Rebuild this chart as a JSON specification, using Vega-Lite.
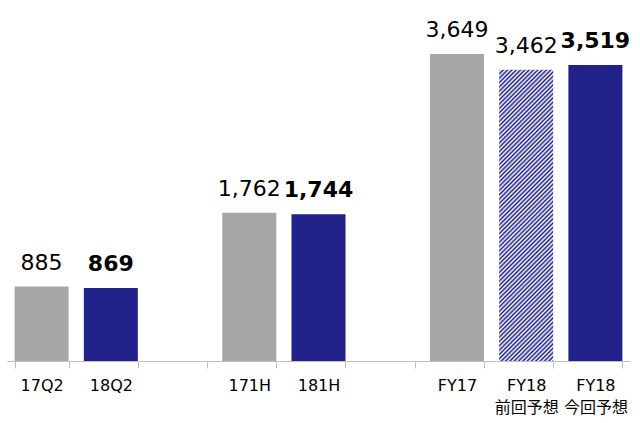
{
  "$schema": "https://vega.github.io/schema/vega-lite/v6.json",
  "width": 623,
  "height": 361,
  "autosize": {"type": "none"},
  "padding": {"left": 7, "top": 0, "right": 10, "bottom": 62},
  "background": "white",
  "config": {"view": {"stroke": null}, "font": "DejaVu Sans"},
  "data": {
    "values": [
      {"cat": "17Q2", "value": 885, "kind": "前年"},
      {"cat": "18Q2", "value": 869, "kind": "当年"},
      {"cat": "171H", "value": 1762, "kind": "前年"},
      {"cat": "181H", "value": 1744, "kind": "当年"},
      {"cat": "FY17", "value": 3649, "kind": "前年"},
      {"cat": "FY18 前回予想", "value": 3462, "kind": "前回予想"},
      {"cat": "FY18 今回予想", "value": 3519, "kind": "当年"}
    ]
  },
  "encoding": {
    "x": {
      "field": "cat",
      "type": "nominal",
      "sort": null,
      "scale": {
        "domain": ["17Q2", "18Q2", "g1", "171H", "181H", "g2", "FY17", "FY18 前回予想", "FY18 今回予想"],
        "paddingInner": 0.22,
        "paddingOuter": 0.11
      },
      "axis": {
        "title": null,
        "labelAngle": 0,
        "labelFont": "DejaVu Sans, Noto Sans CJK JP",
        "labelFontSize": 16,
        "labelColor": "#000000",
        "labelExpr": "indexof(datum.label,'g')==0 ? '' : split(datum.label,' ')",
        "labelLineHeight": 22,
        "labelPadding": 9,
        "labelBaseline": "top",
        "tickBand": "extent",
        "tickSize": 7,
        "tickColor": "#BFBFBF",
        "domainColor": "#BFBFBF",
        "grid": false
      }
    },
    "y": {
      "field": "value",
      "type": "quantitative",
      "scale": {"domain": [0, 4290.7]},
      "axis": null
    }
  },
  "layer": [
    {
      "transform": [{"filter": "datum.kind !== '前回予想'"}],
      "mark": {"type": "bar"},
      "encoding": {
        "color": {
          "field": "kind",
          "type": "nominal",
          "scale": {"domain": ["前年", "当年"], "range": ["#A6A6A6", "#21218A"]},
          "legend": null
        }
      }
    },
    {
      "transform": [{"filter": "datum.kind === '前回予想'"}],
      "mark": {
        "type": "bar",
        "fill": {
          "gradient": "linear",
          "x1": 0, "y1": 0, "x2": 0.2124, "y2": 1.146,
          "stops": [
            {"offset": 0, "color": "#1c1c84"}, {"offset": 0.00625, "color": "#ffffff"}, {"offset": 0.0125, "color": "#1c1c84"}, {"offset": 0.01875, "color": "#ffffff"}, {"offset": 0.025, "color": "#1c1c84"}, {"offset": 0.03125, "color": "#ffffff"}, {"offset": 0.0375, "color": "#1c1c84"}, {"offset": 0.04375, "color": "#ffffff"},
            {"offset": 0.05, "color": "#1c1c84"}, {"offset": 0.05625, "color": "#ffffff"}, {"offset": 0.0625, "color": "#1c1c84"}, {"offset": 0.06875, "color": "#ffffff"}, {"offset": 0.075, "color": "#1c1c84"}, {"offset": 0.08125, "color": "#ffffff"}, {"offset": 0.0875, "color": "#1c1c84"}, {"offset": 0.09375, "color": "#ffffff"},
            {"offset": 0.1, "color": "#1c1c84"}, {"offset": 0.10625, "color": "#ffffff"}, {"offset": 0.1125, "color": "#1c1c84"}, {"offset": 0.11875, "color": "#ffffff"}, {"offset": 0.125, "color": "#1c1c84"}, {"offset": 0.13125, "color": "#ffffff"}, {"offset": 0.1375, "color": "#1c1c84"}, {"offset": 0.14375, "color": "#ffffff"},
            {"offset": 0.15, "color": "#1c1c84"}, {"offset": 0.15625, "color": "#ffffff"}, {"offset": 0.1625, "color": "#1c1c84"}, {"offset": 0.16875, "color": "#ffffff"}, {"offset": 0.175, "color": "#1c1c84"}, {"offset": 0.18125, "color": "#ffffff"}, {"offset": 0.1875, "color": "#1c1c84"}, {"offset": 0.19375, "color": "#ffffff"},
            {"offset": 0.2, "color": "#1c1c84"}, {"offset": 0.20625, "color": "#ffffff"}, {"offset": 0.2125, "color": "#1c1c84"}, {"offset": 0.21875, "color": "#ffffff"}, {"offset": 0.225, "color": "#1c1c84"}, {"offset": 0.23125, "color": "#ffffff"}, {"offset": 0.2375, "color": "#1c1c84"}, {"offset": 0.24375, "color": "#ffffff"},
            {"offset": 0.25, "color": "#1c1c84"}, {"offset": 0.25625, "color": "#ffffff"}, {"offset": 0.2625, "color": "#1c1c84"}, {"offset": 0.26875, "color": "#ffffff"}, {"offset": 0.275, "color": "#1c1c84"}, {"offset": 0.28125, "color": "#ffffff"}, {"offset": 0.2875, "color": "#1c1c84"}, {"offset": 0.29375, "color": "#ffffff"},
            {"offset": 0.3, "color": "#1c1c84"}, {"offset": 0.30625, "color": "#ffffff"}, {"offset": 0.3125, "color": "#1c1c84"}, {"offset": 0.31875, "color": "#ffffff"}, {"offset": 0.325, "color": "#1c1c84"}, {"offset": 0.33125, "color": "#ffffff"}, {"offset": 0.3375, "color": "#1c1c84"}, {"offset": 0.34375, "color": "#ffffff"},
            {"offset": 0.35, "color": "#1c1c84"}, {"offset": 0.35625, "color": "#ffffff"}, {"offset": 0.3625, "color": "#1c1c84"}, {"offset": 0.36875, "color": "#ffffff"}, {"offset": 0.375, "color": "#1c1c84"}, {"offset": 0.38125, "color": "#ffffff"}, {"offset": 0.3875, "color": "#1c1c84"}, {"offset": 0.39375, "color": "#ffffff"},
            {"offset": 0.4, "color": "#1c1c84"}, {"offset": 0.40625, "color": "#ffffff"}, {"offset": 0.4125, "color": "#1c1c84"}, {"offset": 0.41875, "color": "#ffffff"}, {"offset": 0.425, "color": "#1c1c84"}, {"offset": 0.43125, "color": "#ffffff"}, {"offset": 0.4375, "color": "#1c1c84"}, {"offset": 0.44375, "color": "#ffffff"},
            {"offset": 0.45, "color": "#1c1c84"}, {"offset": 0.45625, "color": "#ffffff"}, {"offset": 0.4625, "color": "#1c1c84"}, {"offset": 0.46875, "color": "#ffffff"}, {"offset": 0.475, "color": "#1c1c84"}, {"offset": 0.48125, "color": "#ffffff"}, {"offset": 0.4875, "color": "#1c1c84"}, {"offset": 0.49375, "color": "#ffffff"},
            {"offset": 0.5, "color": "#1c1c84"}, {"offset": 0.50625, "color": "#ffffff"}, {"offset": 0.5125, "color": "#1c1c84"}, {"offset": 0.51875, "color": "#ffffff"}, {"offset": 0.525, "color": "#1c1c84"}, {"offset": 0.53125, "color": "#ffffff"}, {"offset": 0.5375, "color": "#1c1c84"}, {"offset": 0.54375, "color": "#ffffff"},
            {"offset": 0.55, "color": "#1c1c84"}, {"offset": 0.55625, "color": "#ffffff"}, {"offset": 0.5625, "color": "#1c1c84"}, {"offset": 0.56875, "color": "#ffffff"}, {"offset": 0.575, "color": "#1c1c84"}, {"offset": 0.58125, "color": "#ffffff"}, {"offset": 0.5875, "color": "#1c1c84"}, {"offset": 0.59375, "color": "#ffffff"},
            {"offset": 0.6, "color": "#1c1c84"}, {"offset": 0.60625, "color": "#ffffff"}, {"offset": 0.6125, "color": "#1c1c84"}, {"offset": 0.61875, "color": "#ffffff"}, {"offset": 0.625, "color": "#1c1c84"}, {"offset": 0.63125, "color": "#ffffff"}, {"offset": 0.6375, "color": "#1c1c84"}, {"offset": 0.64375, "color": "#ffffff"},
            {"offset": 0.65, "color": "#1c1c84"}, {"offset": 0.65625, "color": "#ffffff"}, {"offset": 0.6625, "color": "#1c1c84"}, {"offset": 0.66875, "color": "#ffffff"}, {"offset": 0.675, "color": "#1c1c84"}, {"offset": 0.68125, "color": "#ffffff"}, {"offset": 0.6875, "color": "#1c1c84"}, {"offset": 0.69375, "color": "#ffffff"},
            {"offset": 0.7, "color": "#1c1c84"}, {"offset": 0.70625, "color": "#ffffff"}, {"offset": 0.7125, "color": "#1c1c84"}, {"offset": 0.71875, "color": "#ffffff"}, {"offset": 0.725, "color": "#1c1c84"}, {"offset": 0.73125, "color": "#ffffff"}, {"offset": 0.7375, "color": "#1c1c84"}, {"offset": 0.74375, "color": "#ffffff"},
            {"offset": 0.75, "color": "#1c1c84"}, {"offset": 0.75625, "color": "#ffffff"}, {"offset": 0.7625, "color": "#1c1c84"}, {"offset": 0.76875, "color": "#ffffff"}, {"offset": 0.775, "color": "#1c1c84"}, {"offset": 0.78125, "color": "#ffffff"}, {"offset": 0.7875, "color": "#1c1c84"}, {"offset": 0.79375, "color": "#ffffff"},
            {"offset": 0.8, "color": "#1c1c84"}, {"offset": 0.80625, "color": "#ffffff"}, {"offset": 0.8125, "color": "#1c1c84"}, {"offset": 0.81875, "color": "#ffffff"}, {"offset": 0.825, "color": "#1c1c84"}, {"offset": 0.83125, "color": "#ffffff"}, {"offset": 0.8375, "color": "#1c1c84"}, {"offset": 0.84375, "color": "#ffffff"},
            {"offset": 0.85, "color": "#1c1c84"}, {"offset": 0.85625, "color": "#ffffff"}, {"offset": 0.8625, "color": "#1c1c84"}, {"offset": 0.86875, "color": "#ffffff"}, {"offset": 0.875, "color": "#1c1c84"}, {"offset": 0.88125, "color": "#ffffff"}, {"offset": 0.8875, "color": "#1c1c84"}, {"offset": 0.89375, "color": "#ffffff"},
            {"offset": 0.9, "color": "#1c1c84"}, {"offset": 0.90625, "color": "#ffffff"}, {"offset": 0.9125, "color": "#1c1c84"}, {"offset": 0.91875, "color": "#ffffff"}, {"offset": 0.925, "color": "#1c1c84"}, {"offset": 0.93125, "color": "#ffffff"}, {"offset": 0.9375, "color": "#1c1c84"}, {"offset": 0.94375, "color": "#ffffff"},
            {"offset": 0.95, "color": "#1c1c84"}, {"offset": 0.95625, "color": "#ffffff"}, {"offset": 0.9625, "color": "#1c1c84"}, {"offset": 0.96875, "color": "#ffffff"}, {"offset": 0.975, "color": "#1c1c84"}, {"offset": 0.98125, "color": "#ffffff"}, {"offset": 0.9875, "color": "#1c1c84"}, {"offset": 0.99375, "color": "#ffffff"},
            {"offset": 1, "color": "#1c1c84"}
          ]
        }
      }
    },
    {
      "transform": [{"filter": "datum.kind !== '当年'"}],
      "mark": {
        "type": "text",
        "baseline": "alphabetic",
        "dy": -17,
        "fontSize": 22,
        "font": "DejaVu Sans",
        "fontWeight": "normal",
        "color": "#000000"
      },
      "encoding": {
        "text": {"field": "value", "type": "quantitative", "format": ","}
      }
    },
    {
      "transform": [{"filter": "datum.kind === '当年'"}],
      "mark": {
        "type": "text",
        "baseline": "alphabetic",
        "dy": -17,
        "fontSize": 22,
        "font": "DejaVu Sans",
        "fontWeight": "bold",
        "color": "#000000"
      },
      "encoding": {
        "text": {"field": "value", "type": "quantitative", "format": ","}
      }
    }
  ]
}
